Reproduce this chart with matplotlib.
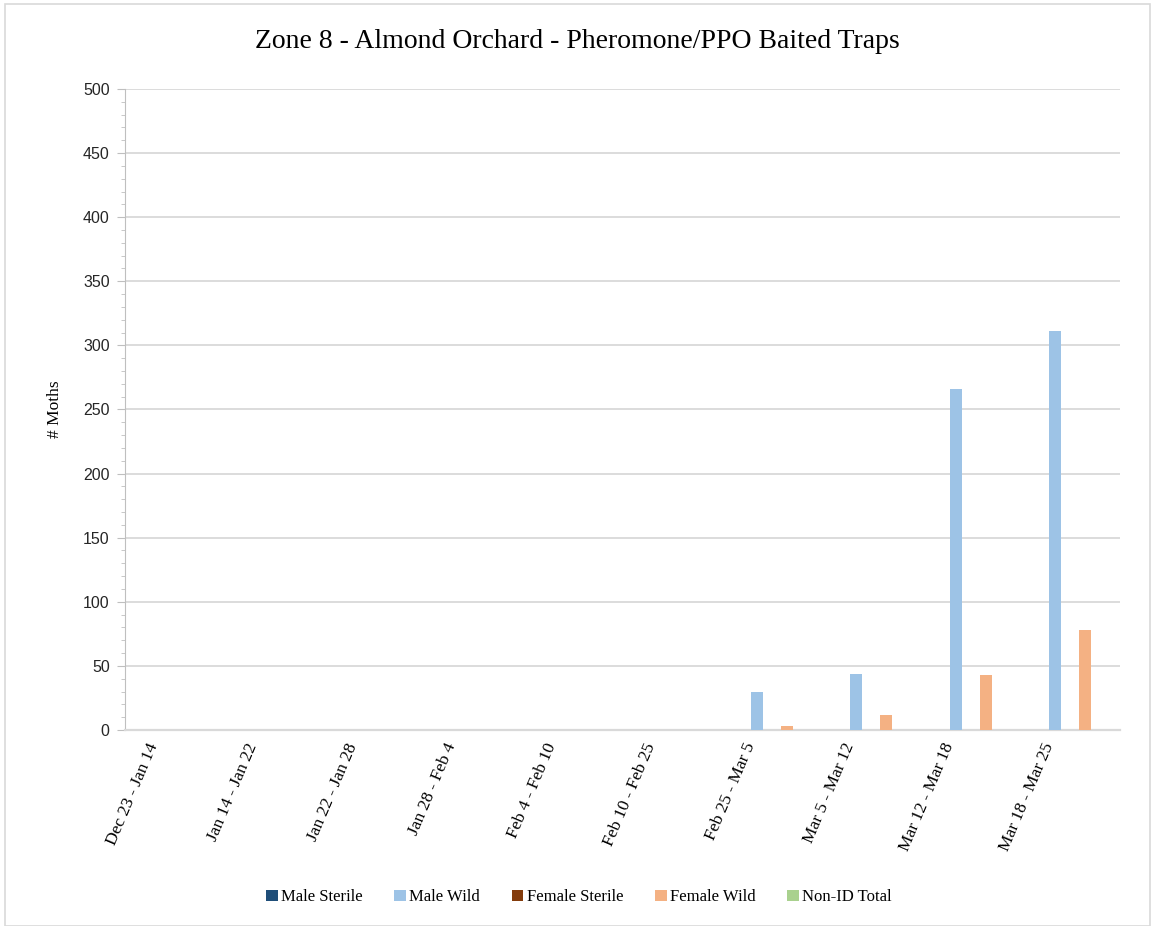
import numpy as np
import matplotlib.pyplot as plt
import matplotlib.transforms as mtransforms
from matplotlib.patches import Rectangle
from matplotlib.ticker import MultipleLocator

periods = ['Dec 23 - Jan 14', 'Jan 14 - Jan 22', 'Jan 22 - Jan 28', 'Jan 28 - Feb 4',
           'Feb 4 - Feb 10', 'Feb 10 - Feb 25', 'Feb 25 - Mar 5', 'Mar 5 - Mar 12',
           'Mar 12 - Mar 18', 'Mar 18 - Mar 25']
male_sterile = [0, 0, 0, 0, 0, 0, 0, 0, 0, 0]
male_wild = [0, 0, 0, 0, 0, 0, 30, 44, 266, 311]
female_sterile = [0, 0, 0, 0, 0, 0, 0, 0, 0, 0]
female_wild = [0, 0, 0, 0, 0, 0, 3, 12, 43, 78]
non_id_total = [0, 0, 0, 0, 0, 0, 0, 0, 0, 0]

series = [('Male Sterile', male_sterile, '#1F4E79'),
          ('Male Wild', male_wild, '#9DC3E6'),
          ('Female Sterile', female_sterile, '#843C0C'),
          ('Female Wild', female_wild, '#F4B183'),
          ('Non-ID Total', non_id_total, '#A9D18E')]

serif = ['Liberation Serif', 'DejaVu Serif']
sans = ['Liberation Sans', 'DejaVu Sans']

fig = plt.figure(figsize=(11.51, 9.26), dpi=100)
fig.patches.append(Rectangle((0.004, 0.0), 0.995, 0.996, transform=fig.transFigure,
                             fill=False, edgecolor='#d9d9d9', lw=1.2))
ax = fig.add_axes([0.1086, 0.2117, 0.8644, 0.6922])

x = np.arange(len(periods))
w = 0.12
step = 0.15
for i, (name, vals, col) in enumerate(series):
    ax.bar(x + (i - 2) * step, vals, width=w, color=col, label=name, zorder=3)

ax.set_xlim(-0.5, len(periods) - 0.5)
ax.set_ylim(0, 500)
ax.yaxis.set_major_locator(MultipleLocator(50))
ax.yaxis.set_minor_locator(MultipleLocator(10))
ax.grid(axis='y', color='#d9d9d9', lw=1.3, zorder=0)

for s in ['top', 'right']:
    ax.spines[s].set_visible(False)
ax.spines['left'].set_color('#bfbfbf')
ax.spines['bottom'].set_color('#d9d9d9')
ax.spines['bottom'].set_linewidth(1.6)
ax.tick_params(axis='y', which='major', length=6, color='#bfbfbf', labelsize=11.5, pad=5)
ax.tick_params(axis='y', which='minor', length=3, color='#bfbfbf')
ax.tick_params(axis='x', length=0, pad=10)
for lb in ax.get_yticklabels():
    lb.set_family(sans)
    lb.set_color('#262626')

ax.set_xticks(x)
ax.set_xticklabels(periods, rotation=67, ha='right', va='center', rotation_mode='anchor',
                   family=serif, fontsize=12.5)
# shift labels a bit left of the tick, as excel does
shift = mtransforms.ScaledTranslation(-21 / 100, 0, fig.dpi_scale_trans)
for lb in ax.get_xticklabels():
    lb.set_transform(lb.get_transform() + shift)

ax.set_ylabel('# Moths', family=serif, fontsize=12.5)
ax.yaxis.set_label_coords(-0.062, 0.5)
fig.text(0.502, 0.955, 'Zone 8 - Almond Orchard - Pheromone/PPO Baited Traps',
         ha='center', va='center', family=serif, fontsize=20)

fig.legend(loc='center', bbox_to_anchor=(0.503, 0.031), ncol=5, frameon=False,
           prop={'family': serif, 'size': 12}, handlelength=0.7, handleheight=0.7,
           handletextpad=0.2, columnspacing=1.9)

fig.savefig('out.png', dpi=100)
